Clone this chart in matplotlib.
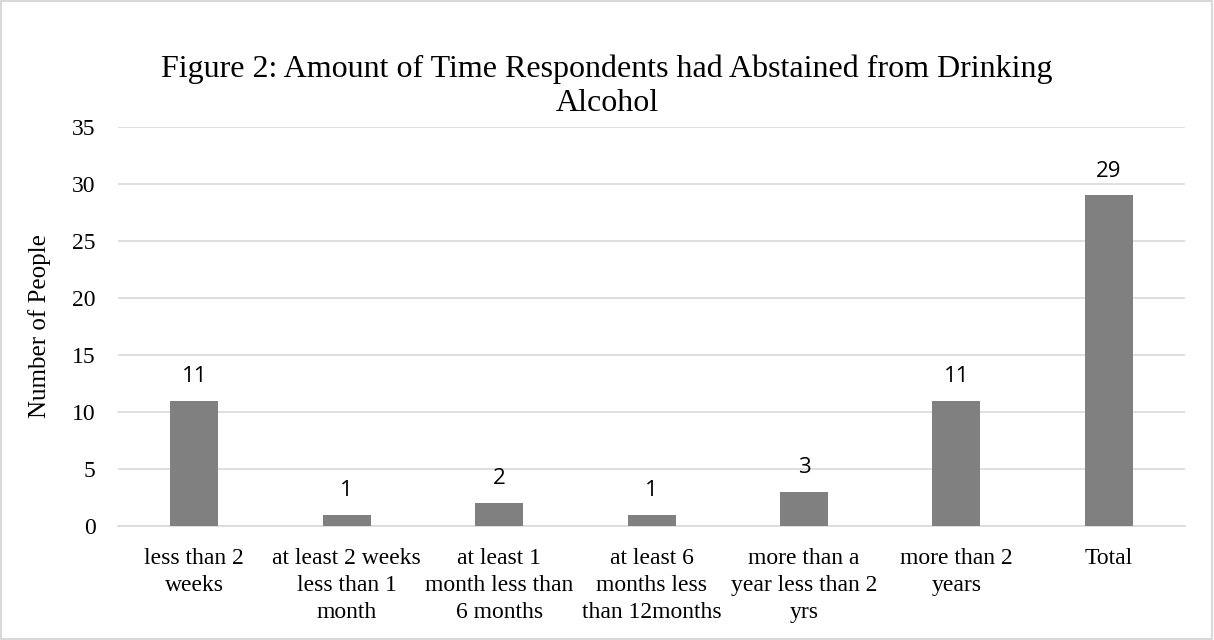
import numpy as np
import matplotlib.pyplot as plt
from matplotlib.patches import Rectangle

categories = [
    'less than 2\nweeks',
    'at least 2 weeks\nless than 1\nmonth',
    'at least 1\nmonth less than\n6 months',
    'at least 6\nmonths less\nthan 12months',
    'more than a\nyear less than 2\nyrs',
    'more than 2\nyears',
    'Total',
]
counts = [11, 1, 2, 1, 3, 11, 29]
y_ticks = [0, 5, 10, 15, 20, 25, 30, 35]

serif = 'Liberation Serif'
sans = 'Open Sans'

fig = plt.figure(figsize=(12.14, 6.4), dpi=100)
ax = fig.add_axes([0.0972, 0.178, 0.879, 0.6235])

x = np.arange(len(categories))
bars = ax.bar(x, counts, width=0.315, color='#808080', zorder=3)

for xi, v in zip(x, counts):
    ax.annotate(str(v), (xi, v), xytext=(0, 10), textcoords='offset points',
                ha='center', va='bottom', fontsize=16, family=sans, color='#000000')

ax.set_xlim(-0.5, len(categories) - 0.5)
ax.set_ylim(0, 35)
ax.set_yticks(y_ticks)
ax.set_yticklabels([str(t) for t in y_ticks], family=serif, fontsize=17)
ax.set_xticks(x)
ax.set_xticklabels(categories, family=serif, fontsize=17, linespacing=1.35, va='top')
ax.tick_params(axis='y', length=0, pad=16)
ax.tick_params(axis='x', length=0, pad=16)

ax.grid(axis='y', color='#d9d9d9', linewidth=1.2, zorder=0)
for s in ['top', 'right', 'left']:
    ax.spines[s].set_visible(False)
ax.spines['bottom'].set_color('#d9d9d9')
ax.spines['bottom'].set_linewidth(1.2)

ax.set_ylabel('Number of People', family=serif, fontsize=18, labelpad=15)

fig.text(0.5, 0.915, 'Figure 2: Amount of Time Respondents had Abstained from Drinking\nAlcohol',
         ha='center', va='top', family=serif, fontsize=23, linespacing=1.22)

# light frame around the chart area
fig.patches.append(Rectangle((0.001, 0.002), 0.997, 0.996, transform=fig.transFigure,
                             fill=False, edgecolor='#d9d9d9', linewidth=1.5))

fig.savefig('out.png', dpi=100, facecolor='white')
